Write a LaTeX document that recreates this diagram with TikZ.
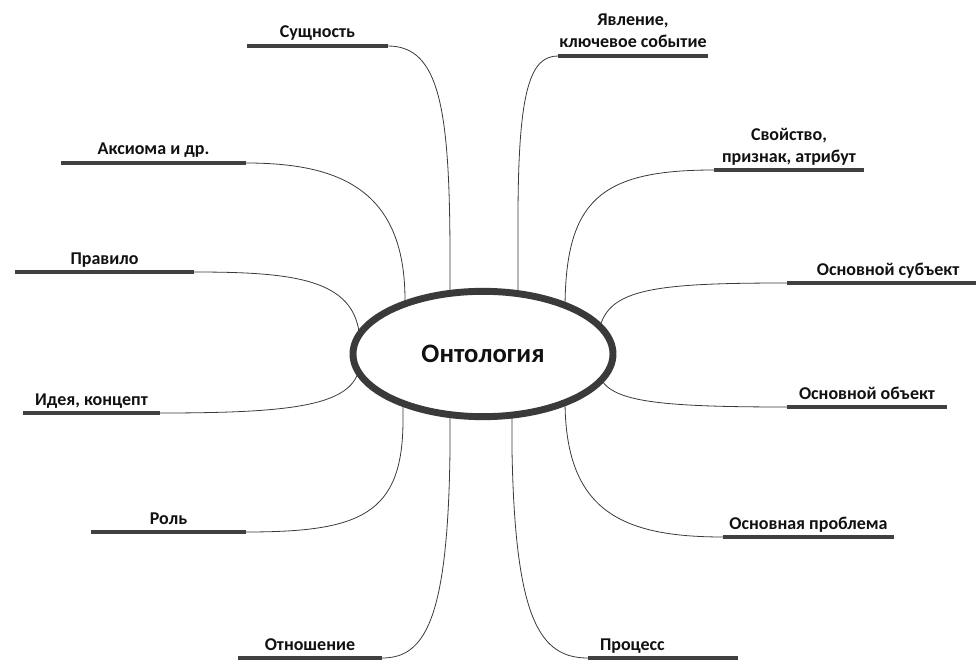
\documentclass[tikz,border=0pt]{standalone}
\usepackage{fontspec}
\setmainfont{Carlito}
\usetikzlibrary{shapes.geometric}
\pgfdeclarelayer{bg}
\pgfsetlayers{bg,main}
\definecolor{barc}{HTML}{404040}
\definecolor{linec}{HTML}{3A3A3A}
\definecolor{txtc}{HTML}{111111}
\begin{document}
\begin{tikzpicture}[x=0.75pt,y=-0.75pt,
  ulbar/.style={fill=barc, draw=none, inner sep=0pt, outer sep=0pt, minimum height=3.6pt, minimum width=#1*0.75pt},
  lbl/.style={font=\bfseries\fontsize{13.5}{16.5}\selectfont, text=txtc, align=center, inner sep=1pt, text depth=3pt},
  conn/.style={draw=linec, line width=0.6pt},
  hub/.style={ellipse, draw=linec, line width=5.2pt, fill=white, minimum width=195pt, minimum height=94pt, font=\bfseries\fontsize{20}{22}\selectfont, text=txtc}]
\useasboundingbox (0,0) rectangle (976,660);

\node[hub] (onto) at (483,354) {Онтология};

\node[ulbar=141, label={[lbl]above:Сущность}] (b1) at (317.5,46) {};
\node[ulbar=150, label={[lbl]above:{Явление,\\ключевое событие}}] (b2) at (633,56) {};
\node[ulbar=150, label={[lbl]above:{Свойство,\\признак, атрибут}}] (b3) at (789,170) {};
\node[ulbar=189, label={[lbl, xshift=5pt]above:Основной субъект}] (b4) at (881.5,283) {};
\node[ulbar=160, label={[lbl]above:Основной объект}] (b5) at (867,407) {};
\node[ulbar=171, label={[lbl]above:Основная проблема}] (b6) at (808.5,537) {};
\node[ulbar=150, label={[lbl, xshift=-23pt]above:Процесс}] (b7) at (663,658) {};
\node[ulbar=144, label={[lbl]above:Отношение}] (b8) at (310,658) {};
\node[ulbar=155, label={[lbl]above:Роль}] (b9) at (168.5,532) {};
\node[ulbar=137, label={[lbl]above:{Идея, концепт}}] (b10) at (91.5,413) {};
\node[ulbar=179, label={[lbl]above:Правило}] (b11) at (104.5,272) {};
\node[ulbar=185, label={[lbl]above:{Аксиома и др.}}] (b12) at (153.5,163) {};

\coordinate (e1) at (450,330);
\coordinate (e2) at (518,330);
\coordinate (e3) at (565,330);
\coordinate (e4) at (598,345);
\coordinate (e5) at (598,365);
\coordinate (e6) at (565,380);
\coordinate (e7) at (512,380);
\coordinate (e8) at (450,380);
\coordinate (e9) at (403,380);
\coordinate (e10) at (360,360);
\coordinate (e11) at (360,345);
\coordinate (e12) at (405,330);

\begin{pgfonlayer}{bg}
\draw[conn] (b1.east) .. controls (440,46) and (450,110) .. (450,260) -- (e1);
\draw[conn] (b2.west) .. controls (530,56) and (518,90) .. (518,220) -- (e2);
\draw[conn] (b3.west) .. controls (600,170) and (565,200) .. (565,310) -- (e3);
\draw[conn] (b4.west) .. controls (640,283) and (598,290) .. (e4);
\draw[conn] (b5.west) .. controls (640,407) and (598,400) .. (e5);
\draw[conn] (b6.west) .. controls (620,537) and (565,510) .. (565,400) -- (e6);
\draw[conn] (b7.west) .. controls (540,658) and (515,620) .. (512,450) -- (e7);
\draw[conn] (b8.east) .. controls (425,658) and (448,620) .. (450,450) -- (e8);
\draw[conn] (b9.east) .. controls (360,532) and (403,515) .. (403,420) -- (e9);
\draw[conn] (b10.east) .. controls (300,413) and (360,405) .. (e10);
\draw[conn] (b11.east) .. controls (300,272) and (360,280) .. (e11);
\draw[conn] (b12.east) .. controls (340,163) and (405,190) .. (405,300) -- (e12);
\end{pgfonlayer}
\end{tikzpicture}
\end{document}
